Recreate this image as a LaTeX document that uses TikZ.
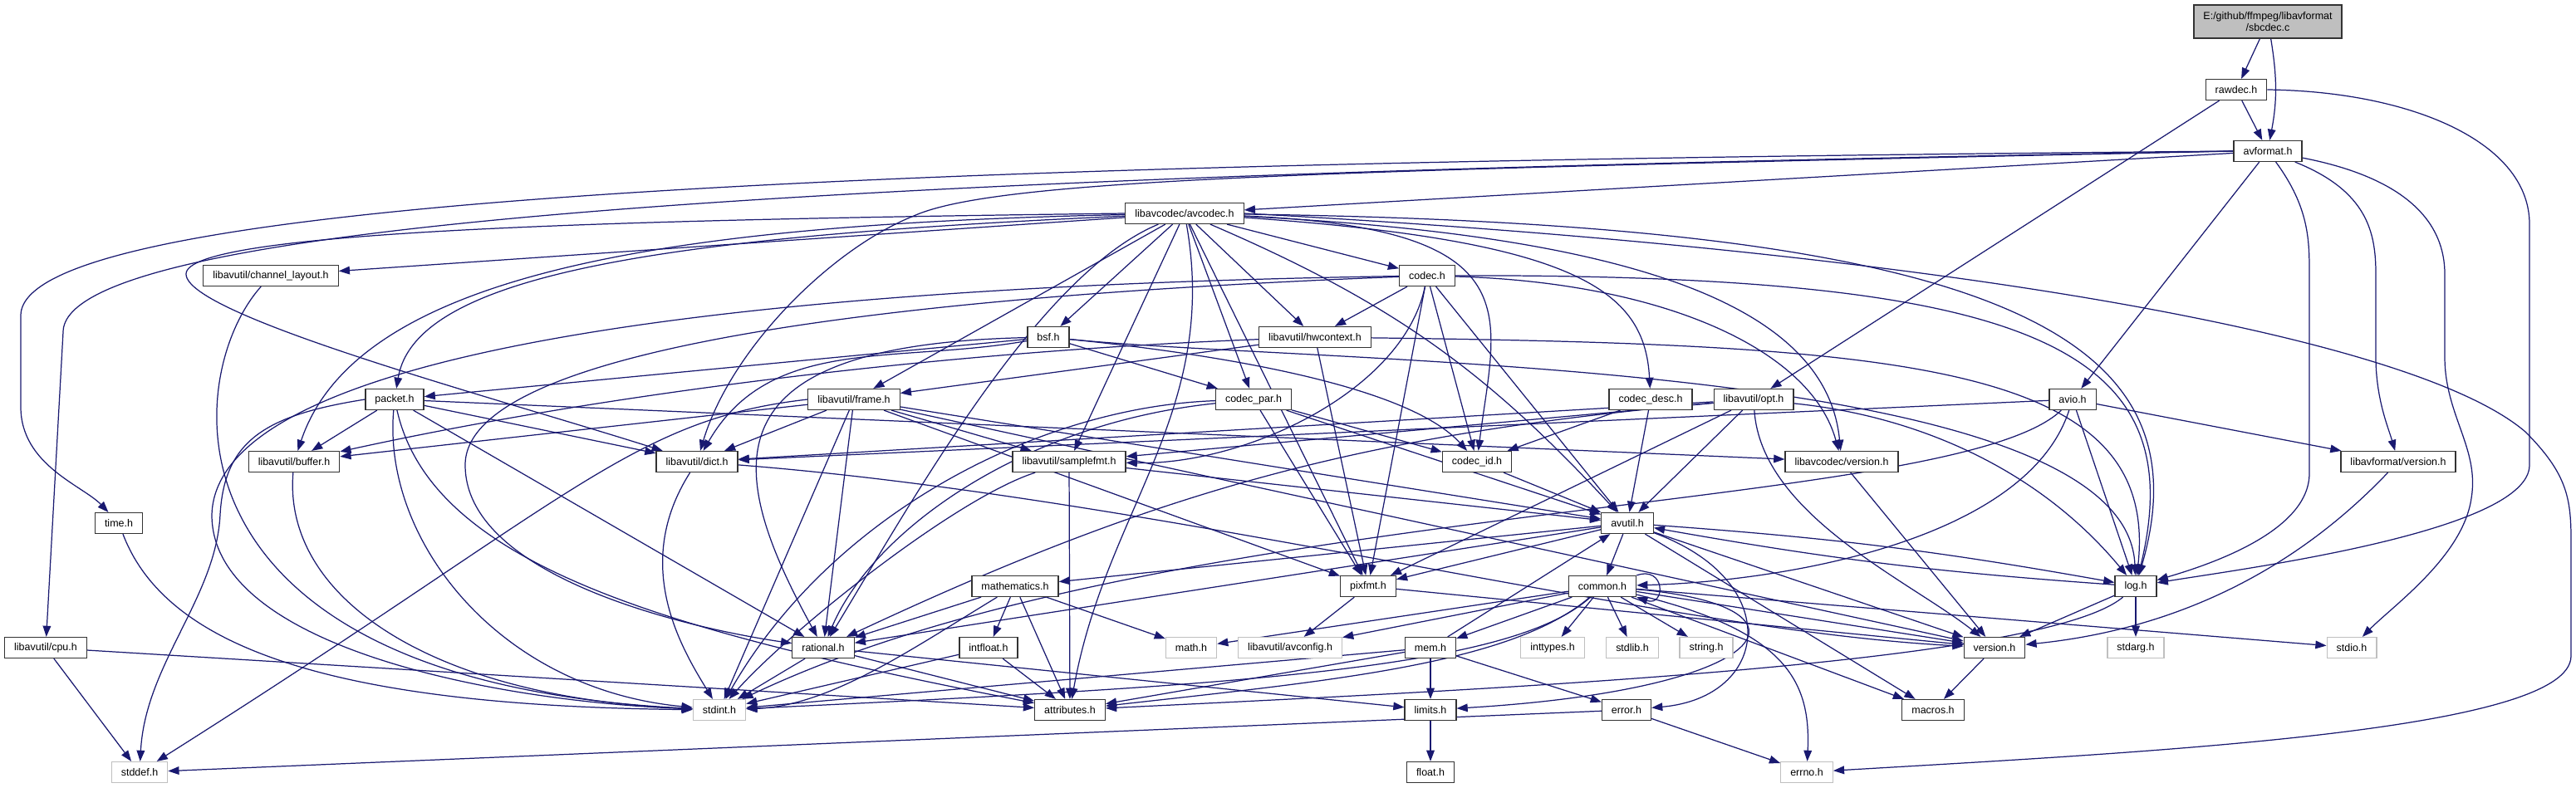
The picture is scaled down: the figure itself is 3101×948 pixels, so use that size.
\documentclass[tikz,border=0pt]{standalone}
\usepackage{fontspec}
\setmainfont{Liberation Sans}
\usetikzlibrary{arrows.meta}
\definecolor{DoxEdge}{RGB}{25,25,112}
\definecolor{DoxGray}{RGB}{191,191,191}
\pgfdeclarelayer{bg}
\pgfdeclarelayer{edges}
\pgfsetlayers{bg,edges,main}

\begin{document}
\begin{tikzpicture}[x=0.02cm, y=0.02cm,
    hdr/.style={rectangle, draw=black!80, fill=white, line width=0.7pt,
                minimum height=0.5cm, inner xsep=0.23cm, inner ysep=0pt,
                font=\fontsize{7.1}{8.5}\selectfont},
    sys/.style={hdr, draw=DoxGray},
    arr/.style={-{Triangle[length=7.5pt, width=5.5pt]}, draw=DoxEdge, line width=0.7pt}
  ]
  \begin{pgfonlayer}{bg}
    \fill[white] (0,0) rectangle (3101,-948);
  \end{pgfonlayer}
  \useasboundingbox (0,0) rectangle (3101,-948);

  % files, row by row
  \node[hdr, fill=DoxGray, align=center, minimum height=0.8cm] (src) at (2730,-26)
        {E:/github/ffmpeg/libavformat\\/sbcdec.c};
  \node[hdr] (rawdec)    at (2692,-108) {rawdec.h};
  \node[hdr] (avformat)  at (2730,-182) {avformat.h};
  \node[hdr] (avcodec)   at (1426,-257) {libavcodec/avcodec.h};
  \node[hdr] (chlayout)  at (326,-332)  {libavutil/channel\_layout.h};
  \node[hdr] (codec)     at (1718,-332) {codec.h};
  \node[hdr] (bsf)       at (1262,-406) {bsf.h};
  \node[hdr] (hwctx)     at (1583,-406) {libavutil/hwcontext.h};
  \node[hdr] (packet)    at (475,-481)  {packet.h};
  \node[hdr] (frame)     at (1028,-481) {libavutil/frame.h};
  \node[hdr] (codecpar)  at (1509,-481) {codec\_par.h};
  \node[hdr] (codecdesc) at (1987,-481) {codec\_desc.h};
  \node[hdr] (opt)       at (2111,-481) {libavutil/opt.h};
  \node[hdr] (avio)      at (2495,-481) {avio.h};
  \node[hdr] (buffer)    at (354,-556)  {libavutil/buffer.h};
  \node[hdr] (dict)      at (839,-556)  {libavutil/dict.h};
  \node[hdr] (samplefmt) at (1287,-556) {libavutil/samplefmt.h};
  \node[hdr] (codecid)   at (1778,-556) {codec\_id.h};
  \node[hdr] (lavcver)   at (2217,-556) {libavcodec/version.h};
  \node[hdr] (lavfver)   at (2887,-556) {libavformat/version.h};
  \node[hdr] (timeh)     at (143,-630)  {time.h};
  \node[hdr] (avutil)    at (1959,-630) {avutil.h};
  \node[hdr] (mathem)    at (1222,-706) {mathematics.h};
  \node[hdr] (pixfmt)    at (1647,-706) {pixfmt.h};
  \node[hdr] (common)    at (1929,-706) {common.h};
  \node[hdr] (log)       at (2571,-706) {log.h};
  \node[hdr] (cpu)       at (55,-780)   {libavutil/cpu.h};
  \node[hdr] (rational)  at (991,-780)  {rational.h};
  \node[hdr] (intfloat)  at (1190,-780) {intfloat.h};
  \node[sys] (math)      at (1434,-780) {math.h};
  \node[sys] (avconfig)  at (1553,-780) {libavutil/avconfig.h};
  \node[hdr] (mem)       at (1722,-780) {mem.h};
  \node[sys] (inttypes)  at (1869,-780) {inttypes.h};
  \node[sys] (stdlib)    at (1965,-780) {stdlib.h};
  \node[sys] (string)    at (2054,-780) {string.h};
  \node[hdr] (version)   at (2401,-780) {version.h};
  \node[sys] (stdarg)    at (2571,-780) {stdarg.h};
  \node[sys] (stdio)     at (2831,-780) {stdio.h};
  \node[sys] (stdint)    at (866,-855)  {stdint.h};
  \node[hdr] (attrib)    at (1288,-855) {attributes.h};
  \node[hdr] (limits)    at (1722,-855) {limits.h};
  \node[hdr] (error)     at (1958,-855) {error.h};
  \node[hdr] (macros)    at (2327,-855) {macros.h};
  \node[sys] (stddef)    at (168,-930)  {stddef.h};
  \node[hdr] (float)     at (1722,-930) {float.h};
  \node[sys] (errno)     at (2175,-930) {errno.h};

  \begin{pgfonlayer}{edges}
  % sbcdec.c, rawdec.h, avformat.h
  \draw[arr] (src) -- (rawdec);
  \draw[arr] (src) to[bend left=10] (avformat);
  \draw[arr] (rawdec) -- (avformat);
  \draw[arr] (rawdec) -- (opt);
  \draw[arr] (rawdec.east) .. controls (2900,-110) and (3045,-170) .. (3045,-270) -- (3045,-560)
             .. controls (3045,-640) and (2700,-685) .. (log);
  \draw[arr] (avformat) -- (avcodec);
  \draw[arr] (avformat.west) .. controls (1200,-195) and (25,-230) .. (25,-380) -- (25,-490)
             .. controls (25,-560) and (100,-585) .. (timeh);
  \draw[arr] (avformat.west) .. controls (1100,-210) and (76,-260) .. (76,-400) -- (cpu);
  \draw[arr] (avformat.west) .. controls (1600,-205) and (1200,-215) .. (1100,-260)
             .. controls (1000,-300) and (880,-420) .. (dict);
  \draw[arr] (avformat) -- (avio);
  \draw[arr] (avformat) .. controls (2780,-250) and (2780,-290) .. (2780,-330) -- (2780,-570)
             .. controls (2780,-640) and (2660,-680) .. (log);
  \draw[arr] (avformat) .. controls (2850,-230) and (2860,-280) .. (2860,-330) -- (2860,-430)
             .. controls (2860,-480) and (2875,-515) .. (lavfver);
  \draw[arr] (avformat) .. controls (2900,-215) and (2943,-270) .. (2943,-330) -- (2943,-430)
             .. controls (2943,-500) and (2985,-540) .. (2975,-600)
             .. controls (2965,-670) and (2880,-730) .. (stdio);

  % libavcodec/avcodec.h
  \draw[arr] (avcodec) -- (chlayout);
  \draw[arr] (avcodec) .. controls (800,-270) and (430,-330) .. (buffer);
  \draw[arr] (avcodec) .. controls (800,-285) and (500,-330) .. (packet);
  \draw[arr] (avcodec.west) .. controls (700,-265) and (224,-280) .. (224,-330)
             .. controls (224,-380) and (600,-480) .. (dict);
  \draw[arr] (avcodec) -- (frame);
  \draw[arr] (avcodec) -- (bsf);
  \draw[arr] (avcodec) -- (samplefmt);
  \draw[arr] (avcodec) .. controls (1250,-330) and (1100,-600) .. (rational);
  \draw[arr] (avcodec) to[out=-80, in=80] (attrib);
  \draw[arr] (avcodec) -- (codecpar);
  \draw[arr] (avcodec) -- (hwctx);
  \draw[arr] (avcodec) -- (pixfmt);
  \draw[arr] (avcodec) -- (codec);
  \draw[arr] (avcodec) to[bend left=12] (avutil);
  \draw[arr] (avcodec) .. controls (1850,-275) and (1800,-380) .. (codecid);
  \draw[arr] (avcodec) .. controls (1900,-290) and (1980,-350) .. (codecdesc);
  \draw[arr] (avcodec) .. controls (2000,-285) and (2200,-380) .. (lavcver);
  \draw[arr] (avcodec) .. controls (2400,-270) and (2660,-400) .. (log);
  \draw[arr] (avcodec.east) .. controls (2300,-300) and (2900,-400) .. (3040,-520)
             .. controls (3090,-570) and (3095,-600) .. (3095,-650) -- (3095,-790)
             .. controls (3095,-880) and (2600,-905) .. (errno);

  % codec.h, bsf.h, hwcontext.h
  \draw[arr] (codec) -- (hwctx);
  \draw[arr] (codec) -- (pixfmt);
  \draw[arr] (codec) -- (codecid);
  \draw[arr] (codec) -- (avutil);
  \draw[arr] (codec) .. controls (1690,-470) and (1500,-560) .. (samplefmt);
  \draw[arr] (codec) .. controls (2000,-340) and (2180,-420) .. (lavcver);
  \draw[arr] (codec) .. controls (2450,-330) and (2640,-420) .. (log);
  \draw[arr] (codec) .. controls (900,-345) and (260,-420) .. (255,-620)
             .. controls (255,-780) and (600,-845) .. (stdint);
  \draw[arr] (codec) .. controls (1000,-360) and (560,-430) .. (560,-560)
             .. controls (560,-700) and (850,-760) .. (rational);
  \draw[arr] (bsf) -- (packet);
  \draw[arr] (bsf) to[out=190, in=60] (dict);
  \draw[arr] (bsf) .. controls (850,-415) and (870,-560) .. (rational);
  \draw[arr] (bsf) -- (codecpar);
  \draw[arr] (bsf) .. controls (1500,-430) and (1700,-470) .. (codecid);
  \draw[arr] (bsf) .. controls (1600,-440) and (2560,-430) .. (log);
  \draw[arr] (hwctx) -- (frame);
  \draw[arr] (hwctx) -- (pixfmt);
  \draw[arr] (hwctx) .. controls (1100,-425) and (700,-480) .. (buffer);
  \draw[arr] (hwctx) .. controls (2300,-415) and (2600,-440) .. (log);

  % packet.h, frame.h, codec_par.h, codec_desc.h
  \draw[arr] (packet) -- (buffer);
  \draw[arr] (packet) -- (dict);
  \draw[arr] (packet) -- (rational);
  \draw[arr] (packet) -- (lavcver);
  \draw[arr] (packet.west) .. controls (320,-500) and (270,-530) .. (265,-620)
             .. controls (260,-720) and (175,-800) .. (stddef);
  \draw[arr] (packet) .. controls (460,-650) and (600,-830) .. (stdint);
  \draw[arr] (packet) .. controls (520,-680) and (800,-760) .. (attrib);
  \draw[arr] (frame) -- (buffer);
  \draw[arr] (frame) -- (dict);
  \draw[arr] (frame) -- (samplefmt);
  \draw[arr] (frame) -- (rational);
  \draw[arr] (frame) -- (stdint);
  \draw[arr] (frame) -- (pixfmt);
  \draw[arr] (frame) -- (avutil);
  \draw[arr] (frame) -- (version);
  \draw[arr] (frame.west) .. controls (760,-505) and (690,-600) .. (stddef);
  \draw[arr] (codecpar) -- (codecid);
  \draw[arr] (codecpar) -- (pixfmt);
  \draw[arr] (codecpar) -- (avutil);
  \draw[arr] (codecpar) .. controls (1250,-490) and (1000,-620) .. (stdint);
  \draw[arr] (codecpar) .. controls (1230,-510) and (1050,-640) .. (rational);
  \draw[arr] (codecdesc) -- (codecid);
  \draw[arr] (codecdesc) -- (avutil);

  % opt.h, avio.h, version headers
  \draw[arr] (opt) -- (dict);
  \draw[arr] (opt) -- (samplefmt);
  \draw[arr] (opt) to[bend right=10] (rational);
  \draw[arr] (opt) -- (pixfmt);
  \draw[arr] (opt) -- (avutil);
  \draw[arr] (opt) .. controls (2120,-620) and (2300,-700) .. (version);
  \draw[arr] (opt) .. controls (2300,-500) and (2450,-560) .. (log);
  \draw[arr] (avio) -- (dict);
  \draw[arr] (avio) -- (log);
  \draw[arr] (avio) -- (lavfver);
  \draw[arr] (avio) .. controls (2440,-650) and (2150,-700) .. (common);
  \draw[arr] (avio) .. controls (2350,-620) and (1400,-600) .. (stdint);
  \draw[arr] (lavcver) -- (version);
  \draw[arr] (lavfver) .. controls (2750,-700) and (2600,-760) .. (version);

  % small libavutil headers
  \draw[arr] (chlayout) .. controls (220,-450) and (180,-820) .. (stdint);
  \draw[arr] (buffer) .. controls (340,-720) and (520,-840) .. (stdint);
  \draw[arr] (timeh) .. controls (200,-780) and (400,-850) .. (stdint);
  \draw[arr] (dict) .. controls (760,-680) and (820,-780) .. (stdint);
  \draw[arr] (dict) .. controls (1400,-600) and (2000,-760) .. (version);
  \draw[arr] (samplefmt) .. controls (1150,-600) and (950,-760) .. (stdint);
  \draw[arr] (samplefmt) -- (avutil);
  \draw[arr] (samplefmt) -- (attrib);
  \draw[arr] (codecid) -- (avutil);
  \draw[arr] (cpu) -- (stddef);
  \draw[arr] (cpu) -- (attrib);

  % avutil.h and below
  \draw[arr] (avutil) -- (common);
  \draw[arr] (avutil) -- (mathem);
  \draw[arr] (avutil) -- (rational);
  \draw[arr] (avutil) -- (pixfmt);
  \draw[arr] (avutil) -- (version);
  \draw[arr] (avutil) -- (macros);
  \draw[arr] (avutil) .. controls (2150,-700) and (2130,-840) .. (error);
  \draw[arr] (avutil) to[bend left=3] (log);
  \draw[arr] (common) -- (inttypes);
  \draw[arr] (common) -- (stdlib);
  \draw[arr] (common) -- (string);
  \draw[arr] (common) -- (mem);
  \draw[arr] (common) -- (avconfig);
  \draw[arr] (common) -- (math);
  \draw[arr] (common) -- (version);
  \draw[arr] (common) -- (macros);
  \draw[arr] (common) -- (stdio);
  \draw[arr] (common) .. controls (2150,-760) and (2180,-820) .. (errno);
  \draw[arr] (common) .. controls (2200,-730) and (2140,-830) .. (limits);
  \draw[arr] (common) .. controls (1820,-800) and (1600,-820) .. (attrib);
  \draw[arr] (common) .. controls (1820,-805) and (1500,-825) .. (stdint);
  \draw[arr] (common.north east) .. controls +(35,12) and +(35,-12) .. (common.south east);
  \draw[arr] (log) -- (stdarg);
  \draw[arr] (log) -- (version);
  \draw[arr] (log) to[bend left=3] (avutil);
  \draw[arr] (log) .. controls (2460,-800) and (1800,-830) .. (attrib);
  \draw[arr] (mem) -- (avutil);
  \draw[arr] (mem) -- (limits);
  \draw[arr] (mem) -- (error);
  \draw[arr] (mem) -- (attrib);
  \draw[arr] (mem) -- (stdint);
  \draw[arr] (mathem) -- (intfloat);
  \draw[arr] (mathem) -- (math);
  \draw[arr] (mathem) -- (attrib);
  \draw[arr] (mathem) -- (rational);
  \draw[arr] (mathem) .. controls (1100,-780) and (1000,-850) .. (stdint);
  \draw[arr] (pixfmt) -- (avconfig);
  \draw[arr] (pixfmt) -- (version);
  \draw[arr] (rational) -- (stdint);
  \draw[arr] (rational) -- (attrib);
  \draw[arr] (rational) -- (limits);
  \draw[arr] (intfloat) -- (stdint);
  \draw[arr] (intfloat) -- (attrib);
  \draw[arr] (version) -- (macros);
  \draw[arr] (limits) -- (float);
  \draw[arr] (error) -- (errno);
  \draw[arr] (error) -- (stddef);
  \end{pgfonlayer}
\end{tikzpicture}
\end{document}
